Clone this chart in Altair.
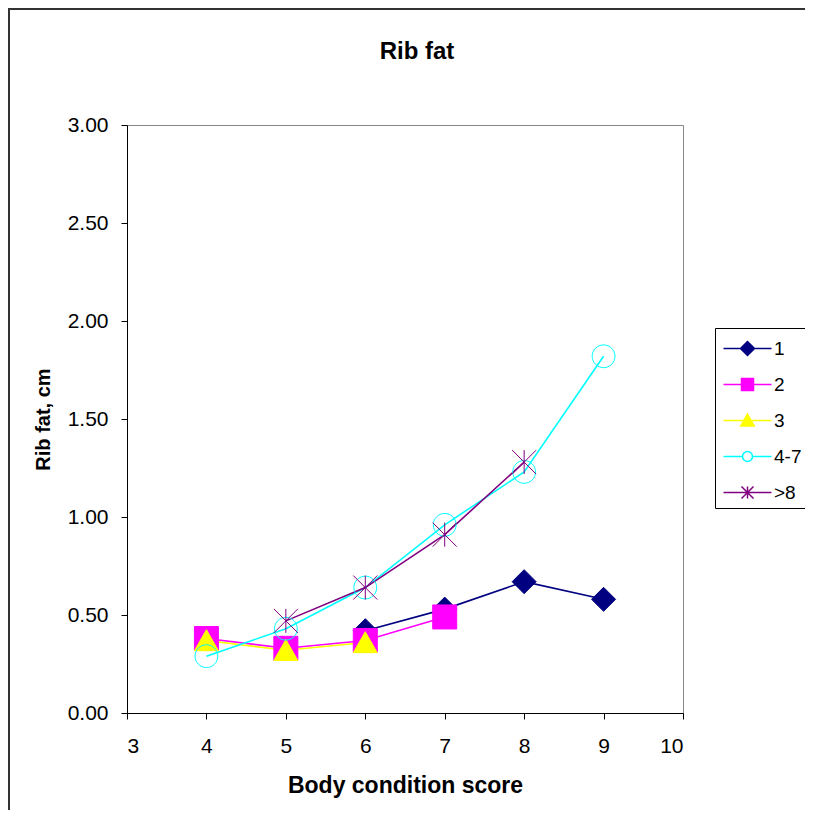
import altair as alt
import pandas as pd

# ---- data ----
series_names = ["1", "2", "3", "4-7", ">8"]

bcs_1 = [6, 7, 8, 9]
fat_1 = [0.42, 0.53, 0.67, 0.58]

bcs_2 = [4, 5, 6, 7]
fat_2 = [0.38, 0.33, 0.37, 0.49]

bcs_3 = [4, 5, 6]
fat_3 = [0.37, 0.32, 0.36]

bcs_47 = [4, 5, 6, 7, 8, 9]
fat_47 = [0.29, 0.43, 0.64, 0.96, 1.23, 1.82]

bcs_8 = [5, 6, 7, 8]
fat_8 = [0.47, 0.64, 0.91, 1.28]

x_ticks = [3, 4, 5, 6, 7, 8, 9, 10]
y_ticks = [0, 0.5, 1.0, 1.5, 2.0, 2.5, 3.0]

# ---- styles ----
line_colors = ["#000080", "#FF00FF", "#FFFF00", "#00FFFF", "#800080"]
fill_colors = ["#000080", "#FF00FF", "#FFFF00", "transparent", "transparent"]
marker_widths = [1, 1, 1, 2, 2]

marker_paths = [
    "M0,-1L1,0L0,1L-1,0Z",
    "M-1,-1L1,-1L1,1L-1,1Z",
    "M0,-0.9L1,0.85L-1,0.85Z",
    "M-0.95,0A0.95,0.95 0 1,1 0.95,0A0.95,0.95 0 1,1 -0.95,0Z",
    "M0,-1L0,1M-1,-1L1,1M-1,1L1,-1",
]
legend_paths = [
    "M-3,0L3,0M0,-0.875L0.875,0L0,0.875L-0.875,0Z",
    "M-3,0L3,0M-0.75,-0.75L0.75,-0.75L0.75,0.75L-0.75,0.75Z",
    "M-3,0L3,0M0,-0.8L0.85,0.7L-0.85,0.7Z",
    "M-3,0L-0.62,0M0.62,0L3,0M-0.62,0A0.62,0.62 0 1,1 0.62,0A0.62,0.62 0 1,1 -0.62,0Z",
    "M-3,0L3,0M0,-0.75L0,0.75M-0.75,-0.75L0.75,0.75M-0.75,0.75L0.75,-0.75",
]

rows = []
for i, (name, xs, ys) in enumerate(
    zip(series_names, [bcs_1, bcs_2, bcs_3, bcs_47, bcs_8], [fat_1, fat_2, fat_3, fat_47, fat_8])
):
    for xv, yv in zip(xs, ys):
        rows.append({"series": name, "order": i, "bcs": xv, "fat": yv})
df = pd.DataFrame(rows)

FONT = "Liberation Sans"

x_enc = alt.X(
    "bcs:Q",
    scale=alt.Scale(domain=[3, 10], nice=False, zero=False),
    axis=alt.Axis(
        values=x_ticks, format="d", title="Body condition score",
        labelPadding=16, titlePadding=18, titleFontSize=23,
    ),
)
y_enc = alt.Y(
    "fat:Q",
    scale=alt.Scale(domain=[0, 3], nice=False),
    axis=alt.Axis(
        values=y_ticks, format=".2f", title="Rib fat, cm",
        labelPadding=13, titlePadding=14, titleFontSize=20,
    ),
)

stroke_scale = alt.Scale(domain=series_names, range=line_colors)
fill_scale = alt.Scale(domain=series_names, range=fill_colors)

lines = alt.Chart(df).mark_line(strokeWidth=1.6).encode(
    x=x_enc,
    y=y_enc,
    stroke=alt.Stroke("series:N", scale=stroke_scale, legend=None),
    order=alt.Order("bcs:Q"),
)

points = alt.Chart(df).mark_point(size=576, opacity=1, filled=False).encode(
    x=x_enc,
    y=y_enc,
    shape=alt.Shape("series:N", scale=alt.Scale(domain=series_names, range=marker_paths), legend=None),
    stroke=alt.Stroke("series:N", scale=stroke_scale, legend=None),
    fill=alt.Fill("series:N", scale=fill_scale, legend=None),
    strokeWidth=alt.StrokeWidth(
        "series:N", scale=alt.Scale(domain=series_names, range=marker_widths), legend=None
    ),
    order=alt.Order("order:Q"),
)

leg = alt.Legend(
    orient="none", legendX=588, legendY=203, title=None,
    padding=11, rowPadding=16, symbolSize=256, symbolStrokeWidth=1.5,
    symbolOffset=12, labelOffset=17, labelFontSize=19, labelFont=FONT,
    labelColor="#000", labelLimit=300,
)

legend_pts = alt.Chart(df).transform_filter("false").mark_point(
    size=256, opacity=1, filled=False, strokeWidth=1.5
).encode(
    x=x_enc,
    y=y_enc,
    shape=alt.Shape("series:N", scale=alt.Scale(domain=series_names, range=legend_paths), legend=leg),
    stroke=alt.Stroke("series:N", scale=stroke_scale, legend=leg),
    fill=alt.Fill("series:N", scale=fill_scale, legend=leg),
)

one = alt.Data(values=[{}])
frame_left = alt.Chart(one).mark_rule(color="#333", strokeWidth=2).encode(
    x=alt.value(-118), y=alt.value(-116), y2=alt.value(720)
)
frame_top = alt.Chart(one).mark_rule(color="#333", strokeWidth=2).encode(
    x=alt.value(-119), x2=alt.value(720), y=alt.value(-116)
)
# legend box (its right side runs past the picture, as in the reference)
box_left = alt.Chart(one).mark_rule(color="#000", strokeWidth=1).encode(
    x=alt.value(588.5), y=alt.value(203.5), y2=alt.value(383.5)
)
box_top = alt.Chart(one).mark_rule(color="#000", strokeWidth=1).encode(
    x=alt.value(588.5), x2=alt.value(720), y=alt.value(203.5)
)
box_bottom = alt.Chart(one).mark_rule(color="#000", strokeWidth=1).encode(
    x=alt.value(588.5), x2=alt.value(720), y=alt.value(383.5)
)

chart = alt.layer(
    frame_left, frame_top, box_left, box_top, box_bottom, lines, points, legend_pts
).resolve_scale(
    shape="independent", fill="independent", stroke="independent"
).properties(
    width=556,
    height=588,
    padding={"left": 119, "top": 117, "right": 122, "bottom": 97},
    autosize=alt.AutoSizeParams(type="none"),
    title=alt.TitleParams(
        "Rib fat", font=FONT, fontSize=24, fontWeight="bold", color="#000",
        anchor="middle", frame="group", dx=12, offset=-56,
    ),
).configure(font=FONT).configure_view(
    stroke="#888", strokeWidth=1
).configure_axis(
    grid=False, domainColor="#000", tickColor="#000", labelColor="#000",
    titleColor="#000", labelFontSize=21, titleFontSize=22, titleFontWeight="bold",
    tickSize=6, labelFont=FONT, titleFont=FONT,
)

chart.save("out.html", embed_options={"renderer": "svg", "actions": False})
